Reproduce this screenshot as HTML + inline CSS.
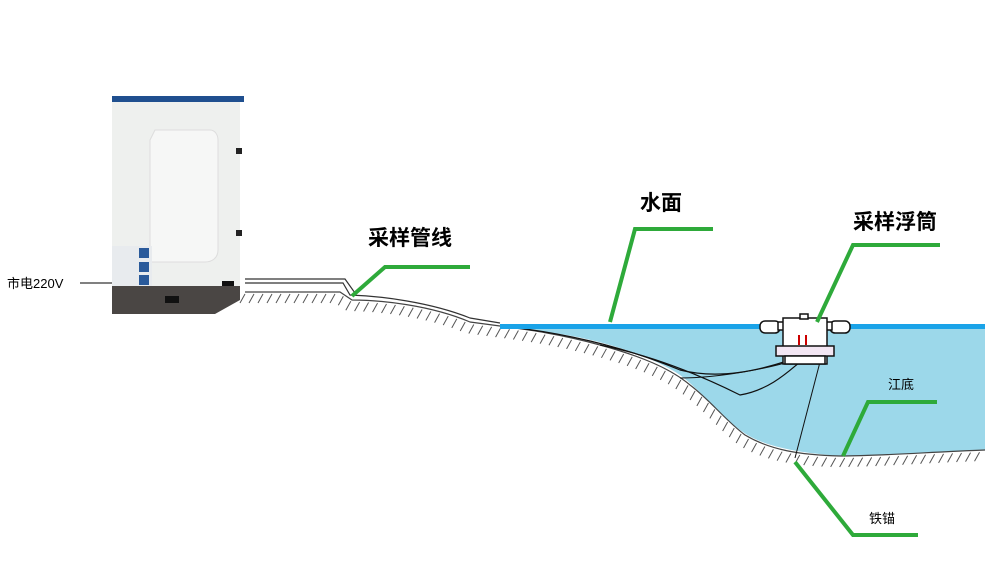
<!DOCTYPE html>
<html><head><meta charset="utf-8"><style>
html,body{margin:0;padding:0;background:#fff;}
svg{display:block}
text{font-family:"Liberation Sans","Noto Sans CJK SC",sans-serif;}
</style></head><body>
<svg id="s" width="985" height="570" viewBox="0 0 985 570" xmlns="http://www.w3.org/2000/svg">
<!-- water -->
<path d="M500,326 L985,326 L985,450 C930,452 880,456 840,456 C790,452 760,445 740,430 C715,410 700,390 680,375 C650,355 600,340 560,334 C530,330 510,327 500,326 Z" fill="#9cd8ea"/>
<!-- ground line -->
<path id="g" d="M245,292 L340,292 L352,300 C380,300 430,305 470,322 L500,326 C530,330 560,334 600,345 C640,356 670,368 690,385 C710,400 725,420 745,435 C770,450 800,455 840,456 C880,456 930,452 985,450" fill="none" stroke="#444" stroke-width="1.2"/>
<g id="hatch" stroke="#555" stroke-width="1"></g>
<!-- pipes -->
<path d="M245,279 L345,279 L355,293" fill="none" stroke="#333" stroke-width="1.2"/>
<path d="M245,283 L343,283 L350,295 C380,296 430,302 470,318 L500,323" fill="none" stroke="#333" stroke-width="1.2"/>
<path d="M500,326 C560,332 620,345 680,370 C720,380 760,370 790,360" fill="none" stroke="#111" stroke-width="1.2"/>
<path d="M600,345 C650,355 700,375 740,395 C770,390 790,370 800,362" fill="none" stroke="#111" stroke-width="1.2"/>
<path d="M680,378 C720,378 770,368 795,360" fill="none" stroke="#111" stroke-width="1"/>
<path d="M820,362 L795,458" fill="none" stroke="#111" stroke-width="1"/>
<!-- water surface -->
<rect x="500" y="324" width="485" height="5" fill="#1aa3e8"/>
<!-- float -->
<g stroke="#111" stroke-width="1.5" fill="#fff">
<rect x="760" y="321" width="20" height="12" rx="5"/>
<rect x="830" y="321" width="20" height="12" rx="5"/>
<rect x="778" y="322" width="54" height="8"/>
<rect x="783" y="318" width="44" height="46"/>
<rect x="800" y="314" width="8" height="5"/>
<rect x="776" y="346" width="58" height="10" fill="#f3e6f3"/>
<rect x="785" y="356" width="40" height="8"/>
</g>
<rect x="798" y="335" width="2" height="10" fill="#c00"/><rect x="805" y="335" width="2" height="10" fill="#c00"/>
<!-- cabinet -->
<rect x="112" y="100" width="128" height="186" fill="#eef0ee"/>
<path d="M112,96 L244,96 L244,102 L112,102Z" fill="#1f4f8f"/>
<path d="M155,130 L210,130 C215,130 218,135 218,140 L218,250 C218,258 212,262 205,262 L150,262 L150,140 Z" fill="#f6f7f6" stroke="#ddd"/>
<rect x="112" y="246" width="40" height="40" fill="#e8ebee"/>
<rect x="139" y="248" width="10" height="10" fill="#2a5a9a"/><rect x="139" y="262" width="10" height="10" fill="#2a5a9a"/><rect x="139" y="275" width="10" height="10" fill="#2a5a9a"/>
<path d="M112,286 L240,286 L240,300 L215,314 L112,314 Z" fill="#4a4644"/>
<rect x="165" y="296" width="14" height="7" fill="#111"/><rect x="222" y="281" width="12" height="5" fill="#111"/>
<rect x="236" y="148" width="6" height="6" fill="#222"/><rect x="236" y="230" width="6" height="6" fill="#222"/>
<line x1="80" y1="283" x2="112" y2="283" stroke="#000" stroke-width="1"/>
<text x="7" y="288" font-size="13" fill="#000">市电220V</text>
<!-- green leaders -->
<g stroke="#2eaa3a" stroke-width="4" fill="none">
<polyline points="352,296 385,267 470,267"/>
<polyline points="610,322 635,229 713,229"/>
<polyline points="817,322 853,245 940,245"/>
<polyline points="843,456 868,402 937,402"/>
<polyline points="795,462 853,535 918,535"/>
</g>
<g font-weight="bold" font-size="21" fill="#000">
<text x="368" y="245">采样管线</text>
<text x="640" y="210">水面</text>
<text x="853" y="229">采样浮筒</text>
</g>
<text x="888" y="389" font-size="13" fill="#000">江底</text>
<text x="869" y="523" font-size="13" fill="#000">铁锚</text>
</svg>
<script>
var p=document.getElementById('g'),h=document.getElementById('hatch'),L=p.getTotalLength(),s='';
for(var d=0;d<L;d+=9){var a=p.getPointAtLength(d);s+='<line x1="'+a.x+'" y1="'+(a.y+2)+'" x2="'+(a.x-5)+'" y2="'+(a.y+11)+'"/>';}
h.innerHTML=s;
</script>
</body></html>
